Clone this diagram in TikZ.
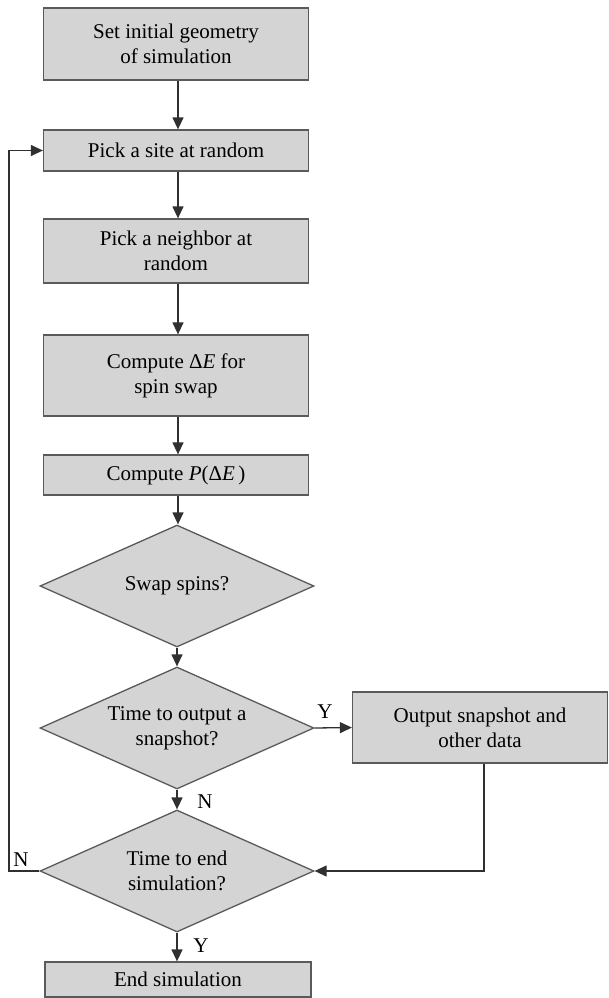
\documentclass[tikz,border=0pt]{standalone}
\usepackage{fontspec}
\setmainfont{Liberation Serif}
\usetikzlibrary{shapes.geometric,arrows.meta}
\definecolor{boxfill}{HTML}{D4D4D4}
\definecolor{boxdraw}{HTML}{5A5A5A}
\definecolor{linec}{HTML}{303030}
\tikzset{
  procbox/.style={draw=boxdraw, fill=boxfill, line width=1.3pt, align=center, inner sep=0pt, font=\fontsize{21}{25}\selectfont},
  decbox/.style={draw=boxdraw, fill=boxfill, line width=1.3pt, diamond, aspect=2.25, minimum width=274pt, minimum height=122pt, inner sep=0pt, align=center, font=\fontsize{21}{25}\selectfont},
  arr/.style={draw=linec, line width=1.3pt, -{Triangle[length=12pt,width=11pt]}},
  lbl/.style={font=\fontsize{21}{25}\selectfont, inner sep=0pt}
}
\begin{document}
\begin{tikzpicture}[x=1pt,y=-1pt]
\useasboundingbox (0,0) rectangle (608,998);
\fill[white] (0,0) rectangle (608,998);
\node[procbox, minimum width=265pt, minimum height=72pt] (b1) at (176,44) {Set initial geometry\\of simulation};
\node[procbox, minimum width=265pt, minimum height=41pt] (b2) at (176,150.5) {Pick a site at random};
\node[procbox, minimum width=265pt, minimum height=64pt] (b3) at (176,251) {Pick a neighbor at\\random};
\node[procbox, minimum width=265pt, minimum height=81pt] (b4) at (176,375.5) {Compute Δ\textit{E} for\\spin swap};
\node[procbox, minimum width=265pt, minimum height=40pt] (b5) at (176,475) {Compute \textit{P}(Δ\textit{E}\,)};
\node[decbox] (d1) at (177,586) {Swap spins?};
\node[decbox] (d2) at (177,728) {Time to output a\\snapshot?};
\node[procbox, minimum width=255pt, minimum height=71pt] (out) at (480,727.5) {Output snapshot and\\other data};
\node[decbox] (d3) at (177,871) {Time to end\\simulation?};
\node[procbox, minimum width=266pt, minimum height=35pt] (end) at (178,979.5) {End simulation};
\node[lbl] (ly1) at (325,712) {Y};
\node[lbl] (ln1) at (205,802) {N};
\node[lbl] (ln2) at (21,860) {N};
\node[lbl] (ly2) at (201,946) {Y};
\coordinate (lp) at (9,871);
\draw[arr] (b1.south -| 178,0) -- (b2.north -| 178,0);
\draw[arr] (b2.south -| 178,0) -- (b3.north -| 178,0);
\draw[arr] (b3.south -| 178,0) -- (b4.north -| 178,0);
\draw[arr] (b4.south -| 178,0) -- (b5.north -| 178,0);
\draw[arr] (b5.south -| 178,0) -- (d1.north -| 178,0);
\draw[arr] (d1.south) -- (d2.north);
\draw[arr] (d2.east) -- (out.west);
\draw[arr] (d2.south) -- (d3.north);
\draw[arr] (d3.south) -- (end.north -| d3.south);
\draw[arr] (out.south -| 484,0) |- (d3.east);
\draw[arr] (d3.west) -- (lp) |- (b2.west);
\end{tikzpicture}
\end{document}
